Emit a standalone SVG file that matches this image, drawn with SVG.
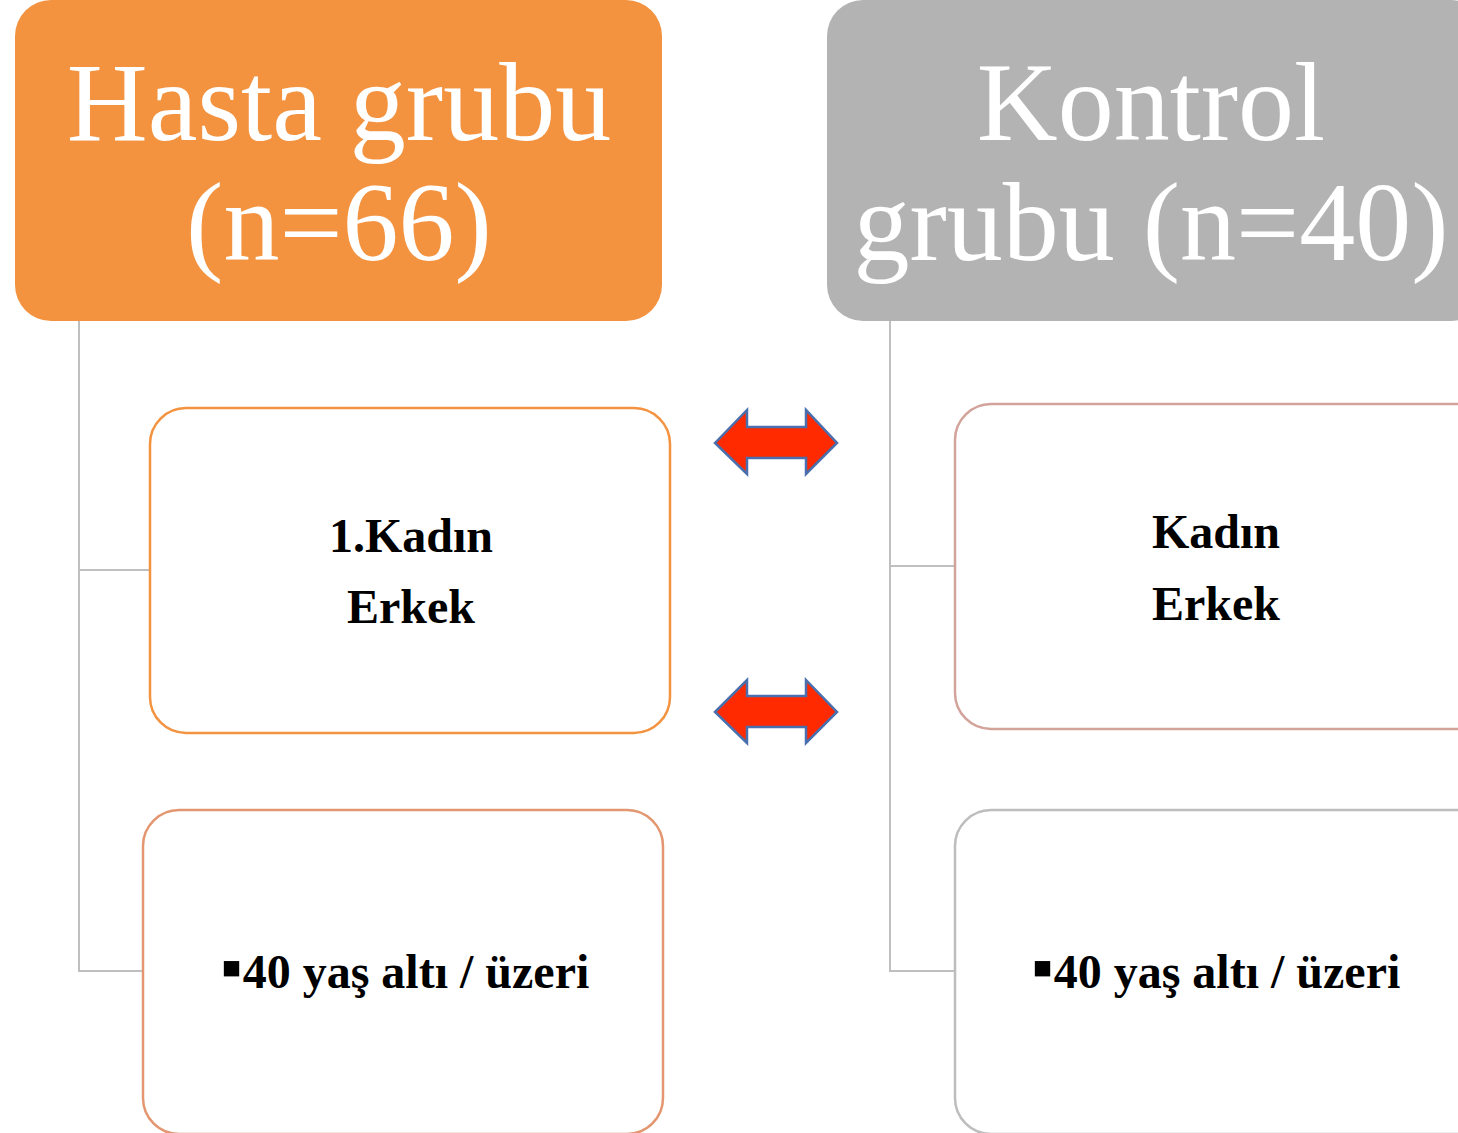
<svg xmlns="http://www.w3.org/2000/svg" width="1458" height="1133" viewBox="0 0 1458 1133">
<style>
.hdr{font-family:"Liberation Serif","Times New Roman",serif;font-size:112px;fill:#fff;text-anchor:middle}
.lbl{font-family:"Liberation Serif","Times New Roman",serif;font-size:48px;font-weight:bold;fill:#000;text-anchor:middle}
.bul{font-size:62px}
.conn{fill:none;stroke:#BFBFBF;stroke-width:2}
.box{fill:#fff;stroke-width:2.5}
.arr{fill:#FF2A00;stroke:#4A6FAE;stroke-width:2.5;stroke-linejoin:miter}
</style>
<rect width="1458" height="1133" fill="#fff"/>
<g id="connectors">
<path class="conn" d="M79,321 V971 H143 M79,570 H150"/>
<path class="conn" d="M890,321 V971 H955 M890,566 H955"/>
</g>
<g id="hasta">
<rect x="15" y="0" width="647" height="321" rx="36" fill="#F39340"/>
<text class="hdr" x="339" y="140">Hasta grubu</text>
<text class="hdr" x="339" y="260">(n=66)</text>
</g>
<g id="kontrol">
<rect x="827" y="0" width="660" height="321" rx="36" fill="#B3B3B3"/>
<text class="hdr" x="1151" y="140">Kontrol</text>
<text class="hdr" x="1151" y="260">grubu (n=40)</text>
</g>
<g id="hasta-cinsiyet">
<rect class="box" x="150" y="408" width="520" height="325" rx="36" stroke="#F39340"/>
<text class="lbl" x="411" y="552">1.Kadın</text>
<text class="lbl" x="411" y="623">Erkek</text>
</g>
<g id="hasta-yas">
<rect class="box" x="143" y="810" width="520" height="324" rx="36" stroke="#E39670"/>
<text class="lbl" x="405" y="988"><tspan class="bul">▪</tspan>40 yaş altı / üzeri</text>
</g>
<g id="kontrol-cinsiyet">
<rect class="box" x="955" y="404" width="540" height="325" rx="36" stroke="#D3A39B"/>
<text class="lbl" x="1216" y="548">Kadın</text>
<text class="lbl" x="1216" y="620">Erkek</text>
</g>
<g id="kontrol-yas">
<rect class="box" x="955" y="810" width="540" height="324" rx="36" stroke="#BDBDBD"/>
<text class="lbl" x="1216" y="988"><tspan class="bul">▪</tspan>40 yaş altı / üzeri</text>
</g>
<g id="arrows">
<polygon class="arr" points="715,443 747,410 747,427 806,427 806,410 837,443 806,474 806,458 747,458 747,474"/>
<polygon class="arr" points="715,712 747,680 747,696 806,696 806,680 837,712 806,743 806,727 747,727 747,743"/>
</g>
</svg>
